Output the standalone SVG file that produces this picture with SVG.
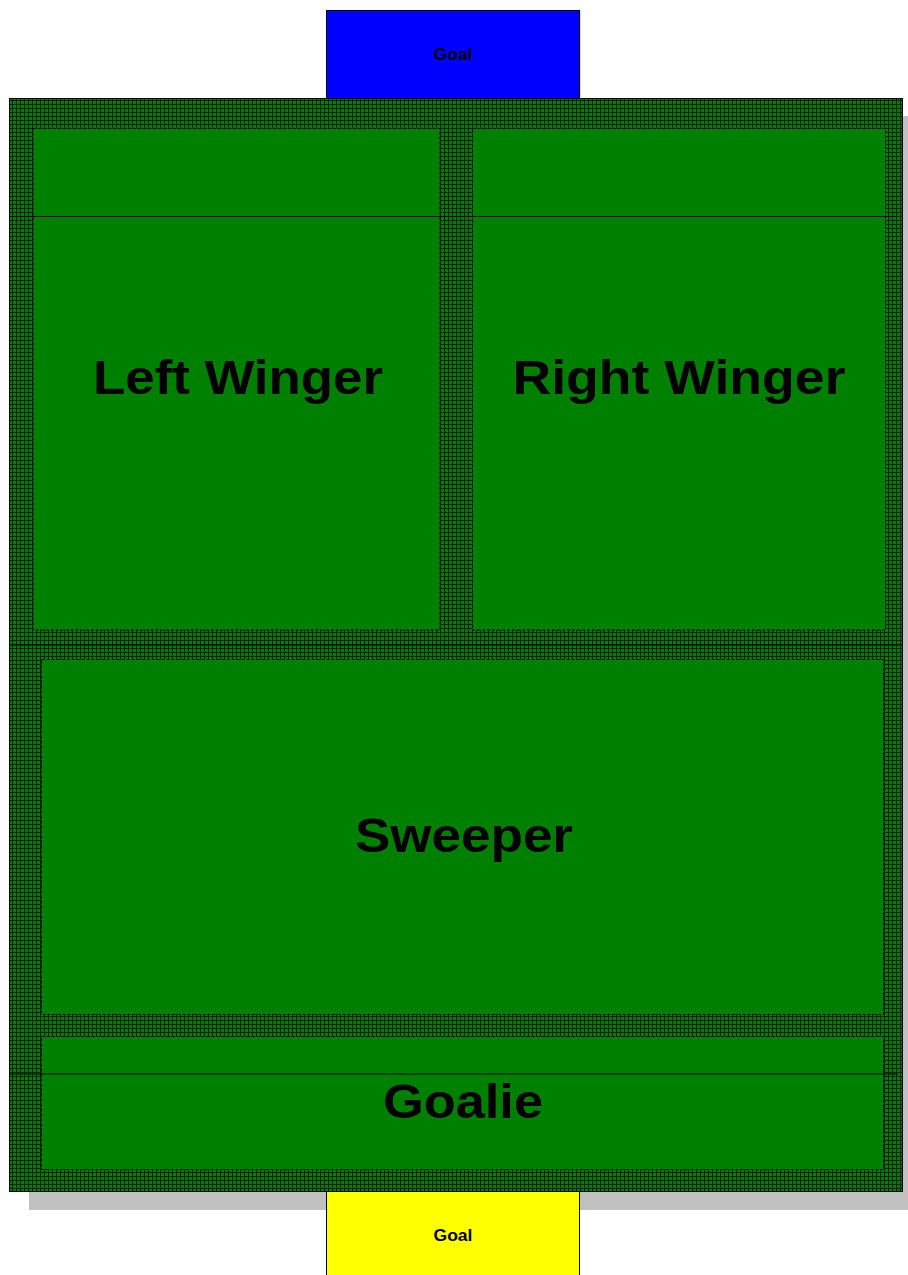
<svg xmlns="http://www.w3.org/2000/svg" width="908" height="1275" viewBox="0 0 908 1275">
<defs>
<pattern id="turf" x="0" y="0" width="4" height="4" patternUnits="userSpaceOnUse">
<rect width="4" height="4" fill="#008000"/>
<rect x="0" y="0" width="4" height="1" fill="#002000"/>
<rect x="0" y="0" width="1" height="4" fill="#002000"/>
</pattern>
</defs>
<style>
.zone{fill:#008000;stroke:#000;stroke-width:1;stroke-dasharray:3 2}
.big{font-family:"Liberation Sans",Arial,sans-serif;font-weight:bold;font-size:48px;fill:#000;text-anchor:middle}
.goal{font-family:"Liberation Sans",Arial,sans-serif;font-weight:bold;font-size:17px;fill:#000;text-anchor:middle}
.line{stroke:#000;stroke-width:1.2;fill:none}
</style>
<g id="field">
<rect x="29" y="116" width="879" height="1094" fill="#c0c0c0"/>
<rect x="9.5" y="98.5" width="893" height="1093" fill="url(#turf)" stroke="#000" stroke-width="1"/>
</g>
<g id="goal-top">
<rect x="327.5" y="10.5" width="253" height="88" fill="#c0c0c0"/>
<rect x="326.5" y="10.5" width="253" height="88" fill="#0000ff" stroke="#000" stroke-width="1"/>
<text class="goal" x="453" y="60" textLength="39" lengthAdjust="spacingAndGlyphs">Goal</text>
</g>
<g id="goal-bottom">
<rect x="326.5" y="1191.5" width="253" height="90" fill="#ffff00" stroke="#000" stroke-width="1"/>
<text class="goal" x="453" y="1241" textLength="39" lengthAdjust="spacingAndGlyphs">Goal</text>
</g>
<g id="left-winger">
<rect class="zone" x="33" y="128.5" width="407" height="501.5"/>
<text class="big" x="238" y="394" textLength="290" lengthAdjust="spacingAndGlyphs">Left Winger</text>
</g>
<g id="right-winger">
<rect class="zone" x="472.5" y="128.5" width="413" height="501.5"/>
<text class="big" x="679" y="394" textLength="333" lengthAdjust="spacingAndGlyphs">Right Winger</text>
</g>
<g id="sweeper">
<rect class="zone" x="41.5" y="659.5" width="842" height="355"/>
<text class="big" x="464" y="852" textLength="218" lengthAdjust="spacingAndGlyphs">Sweeper</text>
</g>
<g id="goalie">
<rect class="zone" x="41.5" y="1036.5" width="842" height="133"/>
<text class="big" x="463" y="1118" textLength="160" lengthAdjust="spacingAndGlyphs">Goalie</text>
</g>
<g id="connectors">
<line class="line" x1="9" y1="216.5" x2="896" y2="216.5"/>
<line class="line" x1="9" y1="645" x2="902" y2="645"/>
<line class="line" x1="9" y1="1074" x2="898" y2="1074"/>
</g>
</svg>
